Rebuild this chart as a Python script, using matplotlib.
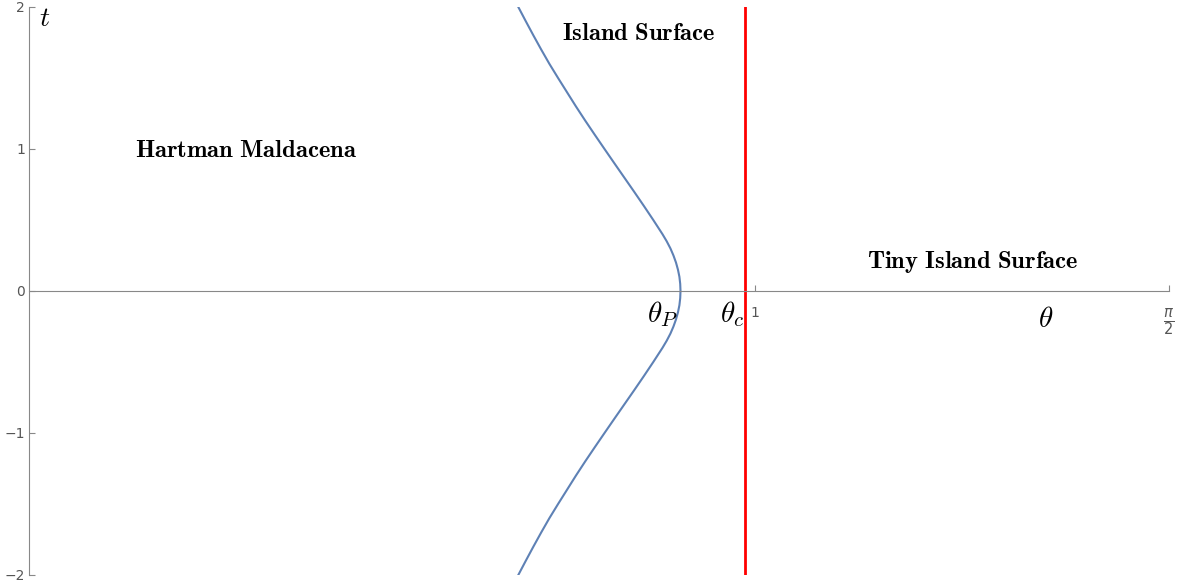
import numpy as np
import matplotlib
matplotlib.use("Agg")
from matplotlib import pyplot as plt

plt.rcParams['mathtext.fontset'] = 'cm'

# curve (upper half, then mirrored below)
t_upper = [0.0, 0.05, 0.1, 0.15, 0.2, 0.25, 0.3, 0.35, 0.4, 0.5, 0.6, 0.7, 0.8,
           0.9, 1.0, 1.1, 1.2, 1.3, 1.4, 1.5, 1.6, 1.7, 1.8, 1.9, 2.0, 2.05]
theta_upper = [0.8977, 0.8973, 0.8962, 0.8942, 0.8915, 0.8880, 0.8838, 0.8787,
               0.8729, 0.8602, 0.8471, 0.8337, 0.8201, 0.8065, 0.7930, 0.7796,
               0.7664, 0.7536, 0.7413, 0.7290, 0.7170, 0.7058, 0.6950, 0.6845,
               0.6742, 0.6692]

theta_c = 0.987

region_labels = ['Hartman Maldacena', 'Island Surface', 'Tiny Island Surface']
region_x = [0.299, 0.840, 1.300]
region_y = [0.99, 1.815, 0.205]

t_curve = [-v for v in t_upper[::-1]] + t_upper[1:]
theta_curve = theta_upper[::-1] + theta_upper[1:]

fig = plt.figure(figsize=(11.83, 5.88), dpi=100)
ax = fig.add_axes([29 / 1183, 13 / 588, 1140 / 1183, 568 / 588])

ax.plot(theta_curve, t_curve, color='#5E81B5', lw=1.5)
ax.axvline(theta_c, color='red', lw=2.0)

ax.set_xlim(0, np.pi / 2)
ax.set_ylim(-2, 2)

# Mathematica style axes
gray = '#888888'
for side in ('top', 'right'):
    ax.spines[side].set_visible(False)
ax.spines['bottom'].set_position(('data', 0))
ax.spines['left'].set_position(('data', 0))
ax.spines['bottom'].set_color(gray)
ax.spines['left'].set_color(gray)

ax.set_xticks([1, np.pi / 2])
ax.set_xticklabels(['1', r'$\frac{\pi}{2}$'])
ax.set_yticks([-2, -1, 0, 1, 2])
ax.set_yticklabels(['\u22122', '\u22121', '0', '1', '2'])
ax.tick_params(axis='both', direction='in', length=4, width=0.8, color=gray,
               labelcolor='#555555', labelsize=10, pad=3)
ax.tick_params(axis='x', pad=11)
pi_label = ax.get_xticklabels()[1]
pi_label.set_math_fontfamily('dejavusans')
pi_label.set_fontsize(15)

for txt, x, y in zip(region_labels, region_x, region_y):
    ax.text(x, y, r'$\mathbf{' + txt.replace(' ', r'\ ') + '}$',
            ha='center', va='center', fontsize=17.7)

ax.text(0.873, -0.16, r'$\theta_P$', ha='center', va='center', fontsize=21)
ax.text(0.969, -0.16, r'$\theta_c$', ha='center', va='center', fontsize=21)
ax.text(1.401, -0.20, r'$\theta$', ha='center', va='center', fontsize=21)
ax.text(0.022, 1.92, r'$t$', ha='center', va='center', fontsize=20)

fig.savefig('out.png', dpi=100)
